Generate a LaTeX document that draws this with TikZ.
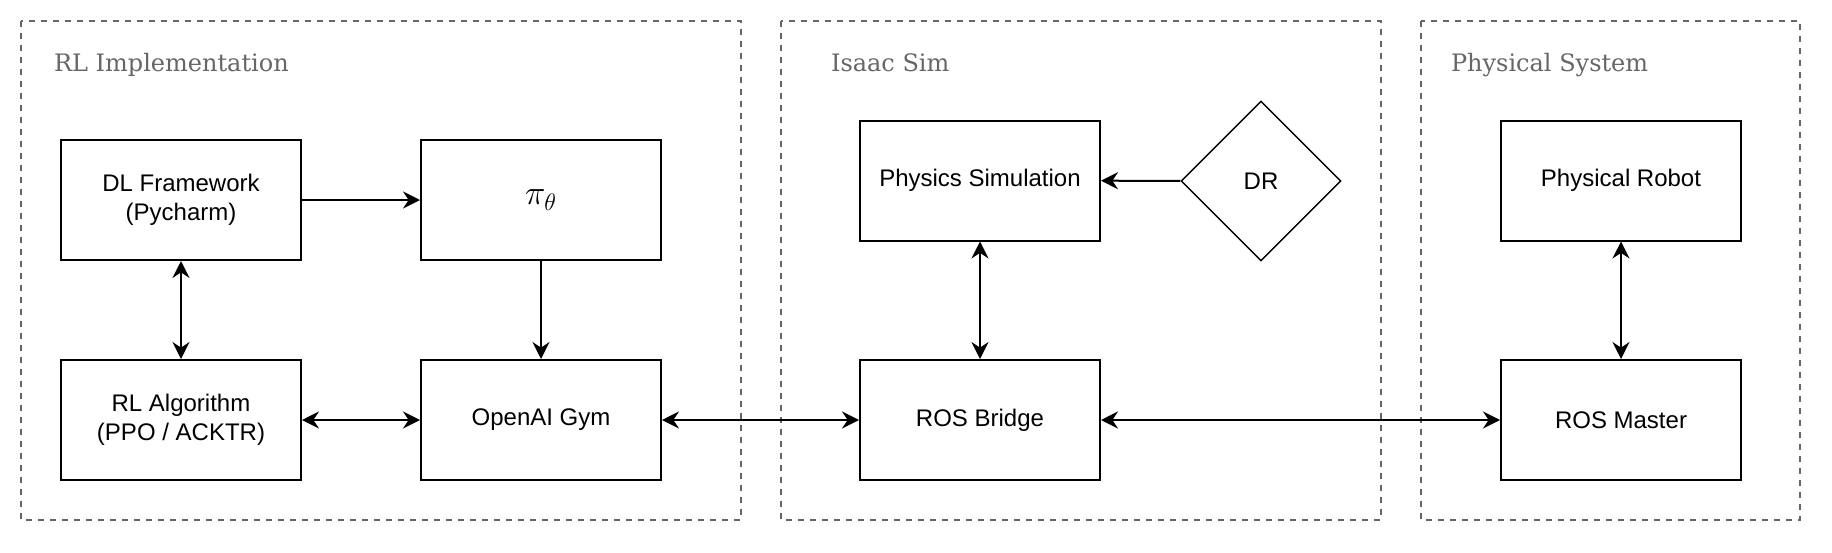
\documentclass[tikz,border=0pt]{standalone}
\usepackage{fontspec}
\usepackage{amsmath}
\usepackage{tikz}
\usetikzlibrary{positioning, arrows.meta, shapes.geometric}
\newfontfamily\boxfont{Liberation Sans}
\newfontfamily\grpfont{DejaVu Serif}
\definecolor{simGray}{HTML}{666666}
\definecolor{simDark}{HTML}{000000}

\begin{document}
\begin{tikzpicture}[
  x=0.5pt, y=-0.5pt,
  every node/.style={font=\boxfont\fontsize{12}{14.5}\selectfont},
  block/.style={
    rectangle, minimum width=120pt, minimum height=60pt,
    draw=simDark, line width=1pt, fill=white,
    text=simDark, align=center, inner sep=2pt
  },
  decide/.style={
    diamond, minimum width=80pt, minimum height=80pt, inner sep=0pt,
    draw=simDark, line width=0.7pt, fill=white, text=simDark
  },
  group/.style={
    draw=simGray, line width=0.8pt, dash pattern=on 3pt off 3pt
  },
  grouplabel/.style={
    anchor=base west, text=simGray,
    font=\grpfont\fontsize{12}{14}\selectfont
  },
  flow/.style={
    -{Stealth[length=8.5pt, width=8.5pt, inset=2.8pt]}, line width=1pt, simDark
  },
  link/.style={
    {Stealth[length=8.5pt, width=8.5pt, inset=2.8pt]}-{Stealth[length=8.5pt, width=8.5pt, inset=2.8pt]},
    line width=1pt, simDark
  },
]
\useasboundingbox (0,0) rectangle (1832,552);

% Groups
\draw[group] (21,21) rectangle (741,520);
\draw[group] (781,21) rectangle (1381,520);
\draw[group] (1421,21) rectangle (1800,520);
\node[grouplabel] (rltitle) at (47,71) {RL Implementation};
\node[grouplabel] (simtitle) at (824,71) {Isaac Sim};
\node[grouplabel] (phystitle) at (1444,71) {Physical System};

% RL implementation
\node[block] (dl) at (181,200) {DL Framework\\(Pycharm)};
\node[block] (policy) at (541,200) {\fontsize{17}{20}\selectfont$\pi_\theta$};
\node[block] (rlalgo) at (181,420) {RL Algorithm\\(PPO / ACKTR)};
\node[block] (gym) at (541,420) {OpenAI Gym};

% Isaac Sim
\node[block] (physsim) at (980,180.5) {Physics Simulation};
\node[decide] (dr) at (1261,181) {DR};
\node[block] (bridge) at (980,420) {ROS Bridge};

% Physical system
\node[block] (robot) at (1621,180.5) {Physical Robot};
\node[block] (master) at (1621,420) {ROS Master};

% Connections
\draw[flow] (dl) -- (policy);
\draw[link] (dl) -- (rlalgo);
\draw[flow] (policy) -- (gym);
\draw[link] (rlalgo) -- (gym);
\draw[link] (gym) -- (bridge);
\draw[flow] (dr) -- (physsim);
\draw[link] (physsim) -- (bridge);
\draw[link] (bridge) -- (master);
\draw[link] (robot) -- (master);

\end{tikzpicture}
\end{document}
